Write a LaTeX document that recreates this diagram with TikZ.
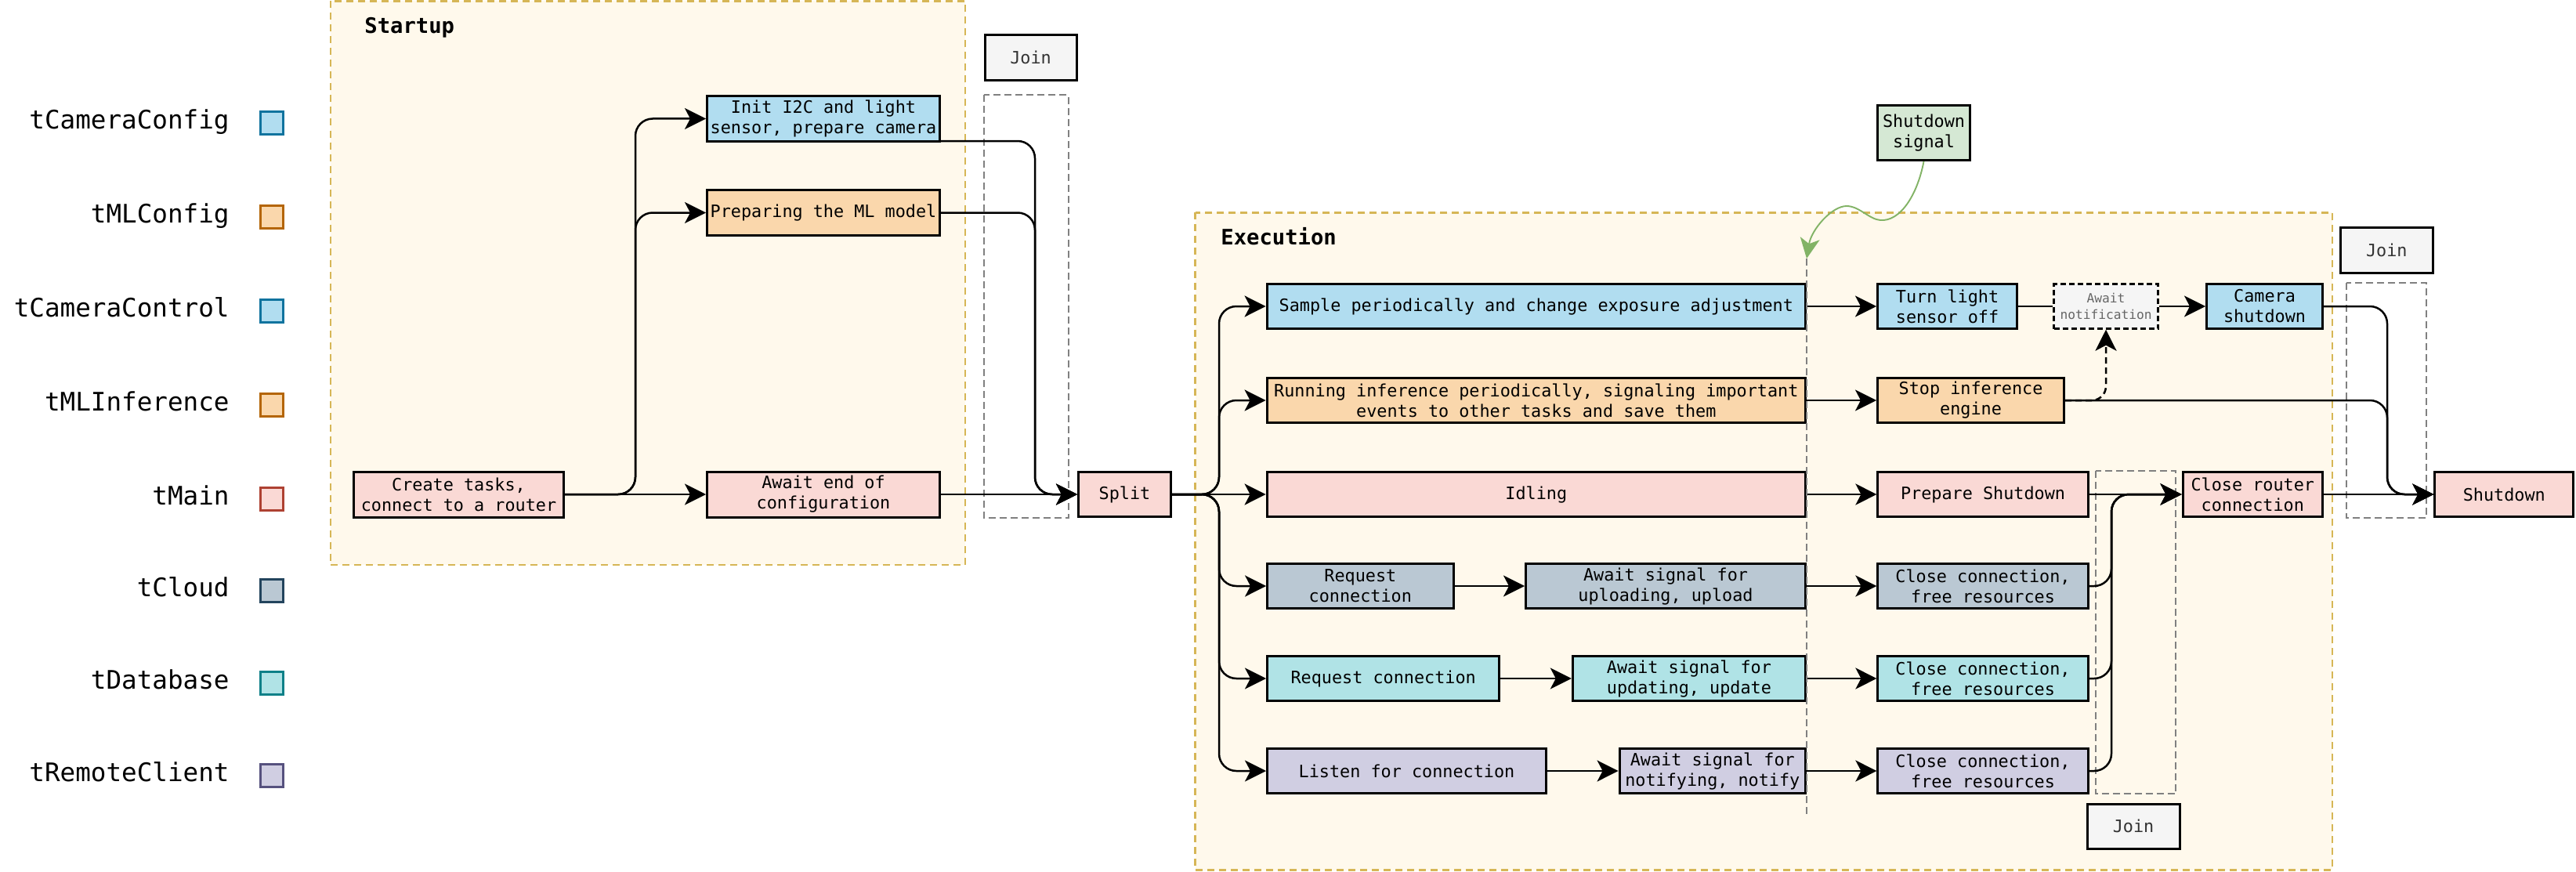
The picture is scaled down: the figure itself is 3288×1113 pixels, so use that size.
\documentclass[tikz,border=0pt]{standalone}
\usepackage{fontspec}
\setmainfont{DejaVu Sans Mono}
\usetikzlibrary{arrows.meta,calc}

% task colours (fill / stroke)
\definecolor{blueF}{HTML}{B1DDF0}\definecolor{blueS}{HTML}{10739E}
\definecolor{orangeF}{HTML}{FAD7AC}\definecolor{orangeS}{HTML}{B46504}
\definecolor{redF}{HTML}{FAD9D5}\definecolor{redS}{HTML}{AE4132}
\definecolor{cloudF}{HTML}{BAC8D3}\definecolor{cloudS}{HTML}{23445D}
\definecolor{tealF}{HTML}{B0E3E6}\definecolor{tealS}{HTML}{0E8088}
\definecolor{purpF}{HTML}{D0CEE2}\definecolor{purpS}{HTML}{56517E}
\definecolor{greenF}{HTML}{D5E8D4}\definecolor{greenS}{HTML}{82B366}
\definecolor{joinF}{HTML}{F5F5F5}\definecolor{joinT}{HTML}{333333}
\definecolor{contF}{HTML}{FFF9EC}\definecolor{contS}{HTML}{D6B656}
\definecolor{regS}{HTML}{808080}\definecolor{noteT}{HTML}{666666}

\begin{document}
\begin{tikzpicture}[x=0.5pt,y=-0.5pt,
  task/.style={draw=black, line width=1.5pt, inner sep=0pt, align=center,
    font=\fontsize{10.9}{13}\selectfont, minimum height=28.5pt},
  joinbox/.style={task, fill=joinF, text=joinT},
  legtext/.style={font=\fontsize{16.3}{20}\selectfont, inner sep=0pt, anchor=base east},
  legsq/.style={line width=1.5pt, minimum size=14.5pt, inner sep=0pt},
  title/.style={font=\bfseries\fontsize{13.6}{16}\selectfont, inner sep=0pt, anchor=base west},
  cont/.style={draw=contS, fill=contF, line width=1.2pt, dash pattern=on 4.5pt off 3pt},
  region/.style={draw=regS, line width=1pt, dash pattern=on 4.5pt off 2.5pt},
  tip/.style={-{Stealth[length=13.5pt,width=13.5pt,inset=3.5pt]}},
  link/.style={draw=black, line width=1.25pt, rounded corners=11pt},
  conn/.style={link, tip},
]
\useasboundingbox (0,0) rectangle (3288,1113);

% ---------- containers ----------
\path[cont] (421.7,1.5) rectangle (1231.7,721);
\path[cont] (1525.5,271.3) rectangle (2977,1110.6);
\node[title] (tstartup) at (465,43) {Startup};
\node[title] (texec) at (1558,312) {Execution};

% ---------- join regions ----------
\draw[region] (1255.6,121) rectangle (1363.5,661);
\draw[region] (2674.5,601) rectangle (2777,1013);
\draw[region] (2995,361) rectangle (3097,661);

% ---------- legend ----------
\foreach \lab/\y/\f/\s [count=\i] in {
  tCameraConfig/151/blueF/blueS, tMLConfig/271/orangeF/orangeS,
  tCameraControl/391/blueF/blueS, tMLInference/511/orangeF/orangeS,
  tMain/631/redF/redS, tCloud/748/cloudF/cloudS,
  tDatabase/866/tealF/tealS, tRemoteClient/984/purpF/purpS}{
  \node[legtext] (leg\i) at (293,\y+13) {\lab};
  \node[legsq, fill=\f, draw=\s] (sq\i) at (347,\y+6) {};
}

% ---------- startup ----------
\node[task, fill=blueF, minimum width=148.5pt, minimum height=29pt] (init) at (1051,151.5) {Init I2C and light\\sensor, prepare camera};
\node[task, fill=orangeF, minimum width=148.5pt, minimum height=29pt] (ml) at (1051,271.5) {Preparing the ML model};
\node[task, fill=redF, minimum width=134pt, minimum height=29pt] (create) at (585.5,631) {Create tasks,\\connect to a router};
\node[task, fill=redF, minimum width=148.5pt, minimum height=29pt] (awaitcfg) at (1051,631) {Await end of\\configuration};
\node[joinbox, minimum width=58.5pt, minimum height=29pt] (join1) at (1315.6,73.5) {Join};
\node[task, fill=redF, minimum width=59pt] (split) at (1435.5,631) {Split};

% ---------- execution ----------
\node[task, fill=blueF, minimum width=343.7pt] (sample) at (1960.8,391) {Sample periodically and change exposure adjustment};
\node[task, fill=orangeF, minimum width=343.7pt] (running) at (1960.8,511) {Running inference periodically, signaling important\\events to other tasks and save them};
\node[task, fill=redF, minimum width=343.7pt] (idling) at (1960.8,631) {Idling};
\node[task, fill=cloudF, minimum width=118.7pt] (reqcloud) at (1736.3,748) {Request\\connection};
\node[task, fill=cloudF, minimum width=178.5pt] (awup) at (2126,748) {Await signal for\\uploading, upload};
\node[task, fill=tealF, minimum width=148.2pt] (reqdb) at (1765.7,866) {Request connection};
\node[task, fill=tealF, minimum width=148.6pt] (awupd) at (2155.9,866) {Await signal for\\updating, update};
\node[task, fill=purpF, minimum width=178pt] (listen) at (1795.5,984) {Listen for connection};
\node[task, fill=purpF, minimum width=118.7pt] (awnot) at (2185.8,984) {Await signal for\\notifying, notify};

\node[task, fill=blueF, minimum width=89pt] (turnoff) at (2485.5,391) {Turn light\\sensor off};
\node[task, fill=joinF, text=noteT, line width=1.2pt, dash pattern=on 3.5pt off 2pt,
  font=\fontsize{8.1}{10.5}\selectfont, minimum width=66.5pt] (awnotif) at (2688,391) {Await\\notification};
\node[task, fill=blueF, minimum width=74pt] (camsd) at (2890.5,391) {Camera\\shutdown};
\node[task, fill=orangeF, minimum width=119pt] (stopinf) at (2515.5,511) {Stop inference\\engine};
\node[task, fill=redF, minimum width=134.1pt] (prepsd) at (2531,631) {Prepare Shutdown};
\node[task, fill=cloudF, minimum width=134.1pt] (ccloud) at (2531,748) {Close connection,\\free resources};
\node[task, fill=tealF, minimum width=134.1pt] (cdb) at (2531,866) {Close connection,\\free resources};
\node[task, fill=purpF, minimum width=134.1pt] (cremote) at (2531,984) {Close connection,\\free resources};
\node[task, fill=redF, minimum width=89.2pt] (closer) at (2875.3,631) {Close router\\connection};
\node[task, fill=redF, minimum width=88.5pt] (shutdown) at (3196.3,631) {Shutdown};
\node[joinbox, minimum width=59pt] (join2) at (2723,1054.5) {Join};
\node[joinbox, minimum width=58.8pt, minimum height=29pt] (join3) at (3046.3,319.5) {Join};
\node[task, fill=greenF, minimum width=59pt, minimum height=35pt] (signal) at (2455.5,169.5) {Shutdown\\signal};

% ---------- junction points ----------
\coordinate (ma) at (811,631);
\coordinate (mj) at (1321,631);
\coordinate (st) at (1556,631);
\coordinate (mc) at (2695,631);
\coordinate (ms) at (3047,631);
\coordinate (sigEnd) at (2306,330);
\coordinate (cutEnd) at (2306,1043);

% ---------- startup connectors ----------
\draw[conn] (create.east) -- (ma) |- (init.west);
\draw[conn] (create.east) -- (ma) |- (ml.west);
\draw[conn] (create.east) -- (awaitcfg.west);
\draw[conn] ($(init.south east)+(0,-2)$) -| (mj) -- (split.west);
\draw[conn] (ml.east) -| (mj) -- (split.west);
\draw[conn] (awaitcfg.east) -- (split.west);

% ---------- split ----------
\draw[conn] (split.east) -- (st) |- (sample.west);
\draw[conn] (split.east) -- (st) |- (running.west);
\draw[conn] (split.east) -- (idling.west);
\draw[conn] (split.east) -- (st) |- (reqcloud.west);
\draw[conn] (split.east) -- (st) |- (reqdb.west);
\draw[conn] (split.east) -- (st) |- (listen.west);

% ---------- lanes ----------
\draw[conn] (reqcloud) -- (awup);
\draw[conn] (reqdb) -- (awupd);
\draw[conn] (listen) -- (awnot);
\draw[conn] (sample) -- (turnoff);
\draw[link] (turnoff) -- (awnotif);
\draw[conn] (awnotif) -- (camsd);
\draw[conn] (running) -- (stopinf);
\draw[conn] (idling) -- (prepsd);
\draw[conn] (awup) -- (ccloud);
\draw[conn] (awupd) -- (cdb);
\draw[conn] (awnot) -- (cremote);

% ---------- shutdown joins ----------
\draw[conn] (prepsd) -- (closer);
\draw[conn] (ccloud.east) -| (mc) -- (closer.west);
\draw[conn] (cdb.east) -| (mc) -- (closer.west);
\draw[conn] (cremote.east) -| (mc) -- (closer.west);
\draw[conn] (camsd.east) -| (ms) -- (shutdown.west);
\draw[conn] (stopinf.east) -| (ms) -- (shutdown.west);
\draw[conn] (closer) -- (shutdown);
\draw[conn, rounded corners=9pt, dash pattern=on 4pt off 2.5pt] (stopinf.east) -| (awnotif.south);

% ---------- shutdown signal cut ----------
\draw[draw=regS, line width=0.9pt, dash pattern=on 4.5pt off 2.5pt] (sigEnd) -- (cutEnd);
\draw[draw=greenS, line width=0.95pt, -{Stealth[length=13pt,width=12.5pt,inset=3.5pt,fill=greenS]}]
  (signal.south) .. controls (2447,250) and (2425,283) .. (2400,281)
  .. controls (2386,280) and (2373,263) .. (2357,263)
  .. controls (2338,263) and (2312,293) .. (sigEnd);
\end{tikzpicture}
\end{document}
